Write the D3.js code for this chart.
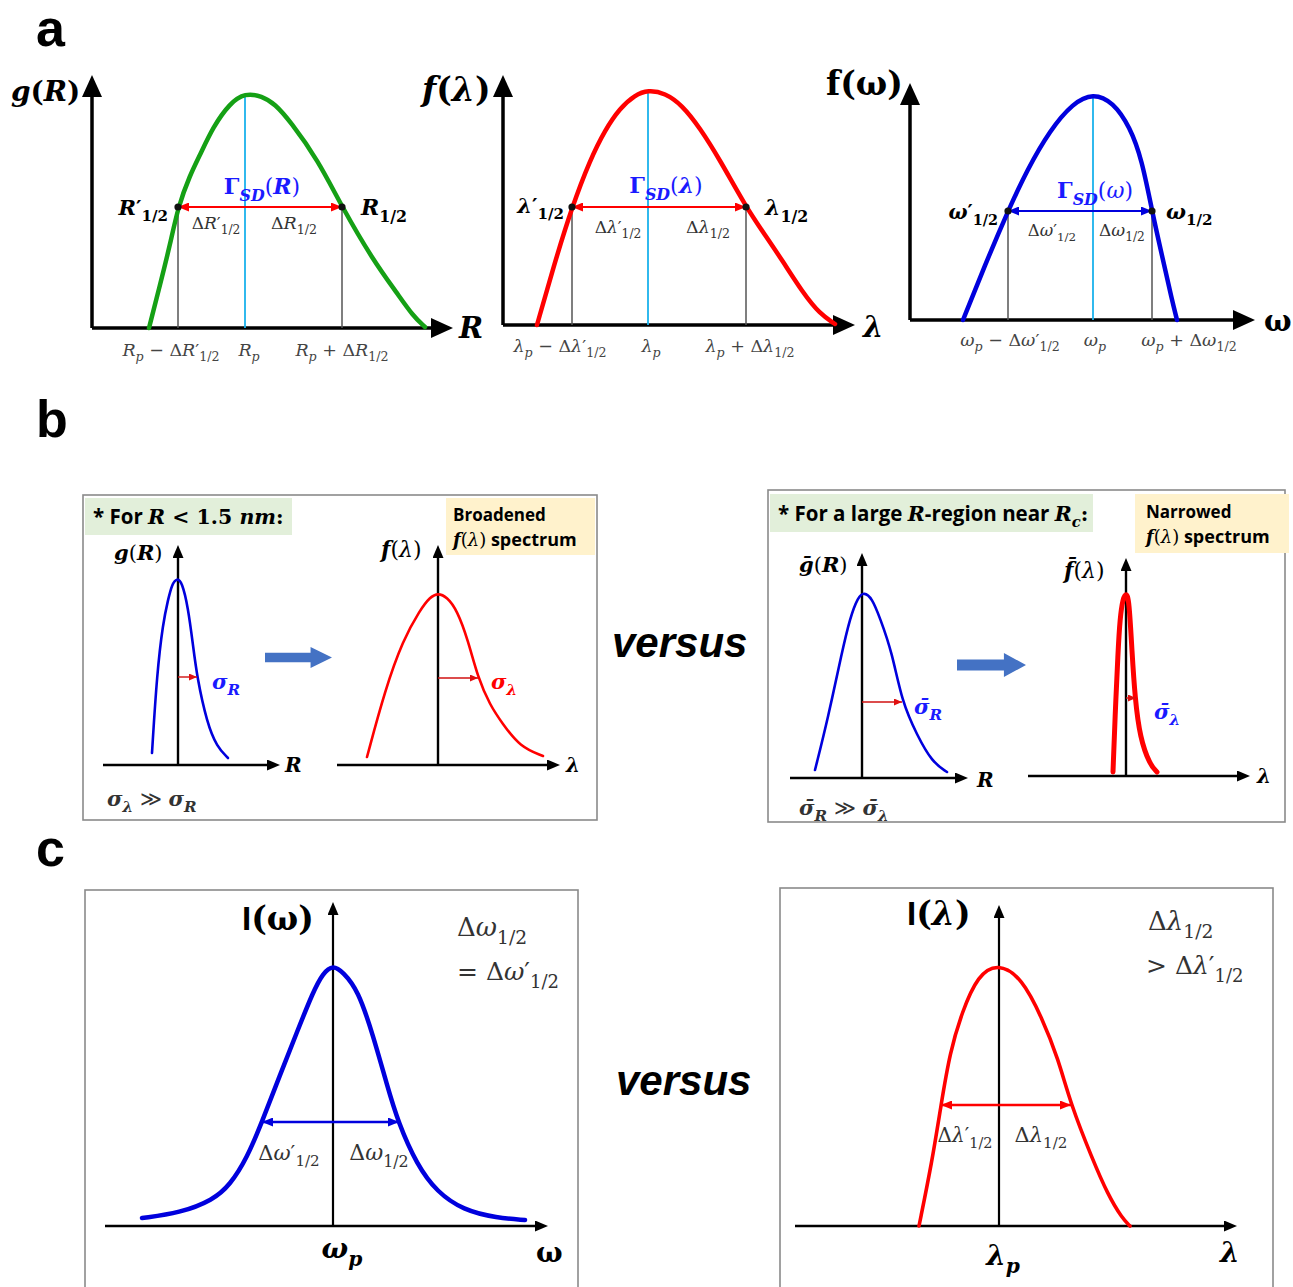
<!DOCTYPE html>
<html><head><meta charset="utf-8">
<script src="https://cdn.jsdelivr.net/npm/d3@7"></script>
<style>body{margin:0;background:#fff}</style>
</head><body>
<script>
// ================= DATA (arbitrary units) =================
// Panel a : curves, x measured from the y-axis, y measured from the baseline
const aG_x = [57,68,78,86,98,108,121,138,153,170,183,198,226,250,281,305,321,333];
const aG_y = [0,43,83,121,153,173,201,225,235,232,224,207,168,121,68,35,12,1];
const aF_x = [34,51,69,87,102,117,132,145,162,179,197,217,243,262,279,300,317,332];
const aF_y = [0,60,118,165,195,217,230,235,232,220,197,165,118,90,65,32,11,1];
const aW_x = [53,75,98,117,140,163,183,203,220,232,242,253,262,267];
const aW_y = [0,55,109,150,190,217,227,218,193,160,109,60,20,0];
// half-maximum markers: [left x, right x, level, peak x]
const aG_half = [86,250,121,153];
const aF_half = [69,243,118,145];
const aW_half = [98,242,109,183];
// Panel b : curves (x measured from the vertical axis)
const bG1_x = [-26,-21,-15,-10,-6,-1,4,10,15,19,29,39,50];
const bG1_y = [12,92,142,165,181,187,183,158,120,88,42,18,7];
const bF1_x = [-71,-53,-35,-18,-8,0,9,19,30,40,52,64,82,105];
const bF1_y = [8,75,125,155,168,172,168,155,125,87,60,42,18,9];
const bG2_x = [-47,-34,-20,-12,-4,2,10,18,30,40,55,70,85];
const bG2_y = [8,60,126,160,181,186,180,160,126,76,43,16,6];
const bF2_x = [-13,-11,-8,-6,-3,0,3,6,9,14,24,31];
const bF2_y = [4,58,124,158,178,183,178,124,78,38,11,4];
const bSigma = [19,40,40,10]; // arrow length to the curve (sigma) in each sub-plot
const bSigmaY = [88,87,76,78];
// Panel c
const cW_x = [-191,-153,-120,-103,-86,-71,-53,-36,-20,-10,0,10,25,40,54,65,84,104,130,164,192];
const cW_y = [8,13,26,41,68,104,151,194,234,253,261,254,236,191,141,104,61,34,16,8,6];
const cL_x = [-80,-67,-58,-49,-37,-21,-1,23,43,59,72,93,109,123,131];
const cL_y = [0,64,121,174,214,251,263,248,208,168,121,68,31,8,0];
const cW_half = [-71,66,104];
const cL_half = [-58,72,121];

// ---- text labels (segments: [text, flags]; i=italic b=bold s=subscript a=sans) ----
const ticksA1 = [
  [["R","i"],["p","is"],[" − Δ",""],["R","i"],["′",""],["1/2","s"]],
  [["R","i"],["p","is"]],
  [["R","i"],["p","is"],[" + Δ",""],["R","i"],["1/2","s"]]];
const ticksA2 = [
  [["λ","i"],["p","is"],[" − Δ",""],["λ","i"],["′",""],["1/2","s"]],
  [["λ","i"],["p","is"]],
  [["λ","i"],["p","is"],[" + Δ",""],["λ","i"],["1/2","s"]]];
const ticksA3 = [
  [["ω","i"],["p","is"],[" − Δ",""],["ω","i"],["′",""],["1/2","s"]],
  [["ω","i"],["p","is"]],
  [["ω","i"],["p","is"],[" + Δ",""],["ω","i"],["1/2","s"]]];

// ================= LAYOUT =================
const W = 1293, H = 1287;
const SERIF = "'DejaVu Serif', serif";
const SANS = "'Liberation Sans', Arial, sans-serif";
const CAL = "'Open Sans', 'Noto Sans', sans-serif";
const C = {green:"#15a015", red:"#ff0000", blue:"#0000dd", cyan:"#1ab2ec", gblue:"#1a1aff",
           gray:"#555", text:"#333", boxG:"#e2efda", boxY:"#fff2cc", arrowB:"#4472c4"};

const svg = d3.select("body").append("svg").attr("width", W).attr("height", H);
const defs = svg.append("defs");
function mk(id, color, len, wid, tip) {
  defs.append("marker").attr("id", id).attr("markerUnits", "userSpaceOnUse")
    .attr("markerWidth", len).attr("markerHeight", wid)
    .attr("refX", tip ? len : 0).attr("refY", wid / 2)
    .attr("orient", "auto-start-reverse").attr("viewBox", `0 0 ${len} ${wid}`)
    .append("path").attr("d", `M0,0L${len},${wid / 2}L0,${wid}Z`).attr("fill", color);
}
mk("axA", "#000", 22, 20, false);
mk("axB", "#000", 13, 11, false);
mk("dR", C.red, 11, 9, true);
mk("dB", C.blue, 11, 9, true);
mk("sR", "#e01010", 8, 7, true);

function rich(x, y, segs, o = {}) {
  const size = o.size || 18;
  const t = svg.append("text").attr("x", x).attr("y", y).attr("font-size", size)
    .attr("font-family", o.font || SERIF).attr("fill", o.color || "#000")
    .attr("text-anchor", o.anchor || "start")
    .attr("font-weight", o.bold ? "bold" : "normal");
  let cur = 0;
  for (const [txt, f] of segs) {
    let off = 0, fs = size;
    if (f.includes("s")) { off = size * 0.3; fs = size * 0.72; }
    const ts = t.append("tspan").text(txt).attr("font-size", fs);
    if (off !== cur) ts.attr("dy", off - cur);
    cur = off;
    ts.attr("font-style", f.includes("i") ? "italic" : "normal");
    if (f.includes("b")) ts.attr("font-weight", "bold");
    if (f.includes("a")) ts.attr("font-family", o.sans || CAL);
  }
  return t;
}

// generic sub-plot: origin (ox, oy) in px, axis extents in data units
function plot(cfg) {
  const x = d3.scaleLinear().domain([0, 1]).range([cfg.ox, cfg.ox + 1]);
  const y = d3.scaleLinear().domain([0, 1]).range([cfg.oy, cfg.oy - 1]);
  const g = svg.append("g");
  const hl = cfg.head;
  const mid = cfg.marker;
  g.append("line").attr("x1", x(cfg.xmin)).attr("y1", y(0)).attr("x2", x(cfg.xmax) - hl).attr("y2", y(0))
    .attr("stroke", "#000").attr("stroke-width", cfg.aw).attr("marker-end", `url(#${mid})`);
  g.append("line").attr("x1", x(cfg.yx)).attr("y1", y(0)).attr("x2", x(cfg.yx)).attr("y2", y(cfg.ymax) + hl)
    .attr("stroke", "#000").attr("stroke-width", cfg.yaw || cfg.aw).attr("marker-end", `url(#${mid})`);
  return {x, y, g};
}
function curve(p, xs, ys, color, w) {
  const line = d3.line().x(d => p.x(d[0])).y(d => p.y(d[1])).curve(d3.curveBasis);
  p.g.append("path").attr("d", line(d3.zip(xs, ys))).attr("fill", "none")
    .attr("stroke", color).attr("stroke-width", w).attr("stroke-linecap", "round").attr("stroke-linejoin", "round");
}

// ---------- panel letters ----------
svg.append("text").attr("x", 36).attr("y", 46).text("a").attr("font-family", SANS).attr("font-weight", "bold").attr("font-size", 52);
svg.append("text").attr("x", 36).attr("y", 437).text("b").attr("font-family", SANS).attr("font-weight", "bold").attr("font-size", 52);
svg.append("text").attr("x", 36).attr("y", 866).text("c").attr("font-family", SANS).attr("font-weight", "bold").attr("font-size", 52);

// ---------- panel a ----------
function panelA(cfg, xs, ys, half, col, arrowMarker, ticks, lab) {
  const p = plot({ox: cfg.ox, oy: cfg.oy, xmin: 0, xmax: cfg.xlen, yx: 0, ymax: cfg.ylen, aw: 3.5, head: 22, marker: "axA"});
  const [hlx, hrx, hy, pk] = half;
  const peakY = d3.max(ys) - 2;
  p.g.append("line").attr("x1", p.x(pk)).attr("x2", p.x(pk)).attr("y1", p.y(0)).attr("y2", p.y(peakY))
    .attr("stroke", C.cyan).attr("stroke-width", 1.8);
  [hlx, hrx].forEach(v => p.g.append("line").attr("x1", p.x(v)).attr("x2", p.x(v)).attr("y1", p.y(0)).attr("y2", p.y(hy))
    .attr("stroke", C.gray).attr("stroke-width", 1.5));
  curve(p, xs, ys, col, 4.5);
  p.g.append("line").attr("x1", p.x(hlx)).attr("x2", p.x(hrx)).attr("y1", p.y(hy)).attr("y2", p.y(hy))
    .attr("stroke", arrowMarker === "dR" ? C.red : C.blue).attr("stroke-width", 1.8)
    .attr("marker-start", `url(#${arrowMarker})`).attr("marker-end", `url(#${arrowMarker})`);
  [hlx, hrx].forEach(v => p.g.append("circle").attr("cx", p.x(v)).attr("cy", p.y(hy)).attr("r", 3.6).attr("fill", "#111"));
  const tx = [hlx, pk, hrx];
  ticks.forEach((t, i) => rich(p.x(tx[i]) + lab.tdx[i], p.y(0) + lab.tdy, t, {size: 17.5, anchor: "middle", color: "#444"}));
  return p;
}

// a1 g(R)
const pA1 = panelA({ox: 92, oy: 328, xlen: 361, ylen: 253}, aG_x, aG_y, aG_half, C.green, "dR", ticksA1, {tdx: [-7, 4, 0], tdy: 28});
rich(11, 101, [["g","bi"],["(","b"],["R","bi"],[")","b"]], {size: 28});
rich(459, 338, [["R","bi"]], {size: 29});
rich(pA1.x(aG_half[3]) + 17, pA1.y(aG_half[2]) - 13, [["Γ","b"],["SD","bis"],["(",""],["R","bi"],[")",""]], {size: 22, anchor: "middle", color: C.gblue});
rich(pA1.x(aG_half[0]) - 10, pA1.y(aG_half[2]) + 8, [["R","bi"],["′","b"],["1/2","bs"]], {size: 21, anchor: "end"});
rich(pA1.x(aG_half[1]) + 19, pA1.y(aG_half[2]) + 8, [["R","bi"],["1/2","bs"]], {size: 22});
rich(pA1.x(aG_half[0]) + 38, pA1.y(aG_half[2]) + 22, [["Δ",""],["R","i"],["′",""],["1/2","s"]], {size: 17, anchor: "middle", color: C.text});
rich(pA1.x(aG_half[1]) - 48, pA1.y(aG_half[2]) + 22, [["Δ",""],["R","i"],["1/2","s"]], {size: 17.5, anchor: "middle", color: C.text});

// a2 f(λ)
const pA2 = panelA({ox: 503, oy: 325, xlen: 352, ylen: 250}, aF_x, aF_y, aF_half, C.red, "dR", ticksA2, {tdx: [-12, 3, 4], tdy: 27});
rich(422, 101, [["f","bi"],["(","b"],["λ","bi"],[")","b"]], {size: 33});
rich(863, 337, [["λ","bi"]], {size: 29});
rich(pA2.x(aF_half[3]) + 18, pA2.y(aF_half[2]) - 14, [["Γ","b"],["SD","bis"],["(",""],["λ","bi"],[")",""]], {size: 22, anchor: "middle", color: C.gblue});
rich(pA2.x(aF_half[0]) - 8, pA2.y(aF_half[2]) + 6, [["λ","bi"],["′","b"],["1/2","bs"]], {size: 21, anchor: "end"});
rich(pA2.x(aF_half[1]) + 19, pA2.y(aF_half[2]) + 8, [["λ","bi"],["1/2","bs"]], {size: 22});
rich(pA2.x(aF_half[0]) + 46, pA2.y(aF_half[2]) + 26, [["Δ",""],["λ","i"],["′",""],["1/2","s"]], {size: 17, anchor: "middle", color: C.text});
rich(pA2.x(aF_half[1]) - 38, pA2.y(aF_half[2]) + 26, [["Δ",""],["λ","i"],["1/2","s"]], {size: 17.5, anchor: "middle", color: C.text});

// a3 f(ω)
const pA3 = panelA({ox: 910, oy: 320, xlen: 345, ylen: 237}, aW_x, aW_y, aW_half, C.blue, "dB", ticksA3, {tdx: [2, 2, 37], tdy: 26});
rich(826, 95, [["f","b"],["(","b"],["ω","b"],[")","b"]], {size: 33});
rich(1264, 331, [["ω","b"]], {size: 29});
rich(pA3.x(aW_half[3]) + 2, pA3.y(aW_half[2]) - 13, [["Γ","b"],["SD","bis"],["(",""],["ω","i"],[")",""]], {size: 22, anchor: "middle", color: C.gblue});
rich(pA3.x(aW_half[0]) - 10, pA3.y(aW_half[2]) + 8, [["ω","bi"],["′","b"],["1/2","bs"]], {size: 20, anchor: "end"});
rich(pA3.x(aW_half[1]) + 14, pA3.y(aW_half[2]) + 8, [["ω","bi"],["1/2","bs"]], {size: 21});
rich(pA3.x(aW_half[0]) + 44, pA3.y(aW_half[2]) + 25, [["Δ",""],["ω","i"],["′",""],["1/2","s"]], {size: 16.5, anchor: "middle", color: C.text});
rich(pA3.x(aW_half[1]) - 30, pA3.y(aW_half[2]) + 25, [["Δ",""],["ω","i"],["1/2","s"]], {size: 17, anchor: "middle", color: C.text});

// ---------- panel b ----------
function box(x0, y0, x1, y1) {
  svg.append("rect").attr("x", x0).attr("y", y0).attr("width", x1 - x0).attr("height", y1 - y0)
    .attr("fill", "none").attr("stroke", "#8a8a8a").attr("stroke-width", 1.6);
}
function bigArrow(x0, y0, x1, y1) {
  const h = y1 - y0, bl = (x1 - x0) * 0.68;
  svg.append("path").attr("d", `M${x0},${y0 + h * 0.27}H${x0 + bl}V${y0}L${x1},${y0 + h / 2}L${x0 + bl},${y1}V${y1 - h * 0.27}H${x0}Z`)
    .attr("fill", C.arrowB);
}
function sigmaArrow(p, len, yv) {
  p.g.append("line").attr("x1", p.x(0)).attr("x2", p.x(len)).attr("y1", p.y(yv)).attr("y2", p.y(yv))
    .attr("stroke", "#d01010").attr("stroke-width", 1.4).attr("marker-end", "url(#sR)");
}
const bax = {aw: 2.4, head: 13, marker: "axB"};

// left box
box(83, 495, 597, 820);
svg.append("rect").attr("x", 85).attr("y", 498).attr("width", 207).attr("height", 37).attr("fill", C.boxG);
svg.append("rect").attr("x", 446).attr("y", 498).attr("width", 149).attr("height", 57).attr("fill", C.boxY);
rich(93, 524, [["* For ","ab"],["R","bi"],[" < 1.5 ","b"],["nm","bi"],[":","b"]], {size: 20.5});
rich(453, 521, [["Broadened","ab"]], {size: 17});
rich(453, 546, [["f","bi"],["(",""],["λ","i"],[")",""],[" spectrum","ab"]], {size: 18});

const pB1 = plot(Object.assign({ox: 178, oy: 765, xmin: -75, xmax: 102, yx: 0, ymax: 220}, bax));
curve(pB1, bG1_x, bG1_y, C.blue, 2.6);
sigmaArrow(pB1, bSigma[0], bSigmaY[0]);
rich(114, 560, [["g","bi"],["(",""],["R","bi"],[")",""]], {size: 21});
rich(285, 772, [["R","bi"]], {size: 20});
rich(212, 689, [["σ","bi"],["R","bis"]], {size: 21, color: C.gblue});
rich(107, 806, [["σ","bi"],["λ","bis"],[" ≫ ",""],["σ","bi"],["R","bis"]], {size: 21, color: "#333"});

bigArrow(265, 647, 332, 668);

const pB2 = plot(Object.assign({ox: 438, oy: 765, xmin: -101, xmax: 122, yx: 0, ymax: 220}, bax));
curve(pB2, bF1_x, bF1_y, C.red, 2.6);
sigmaArrow(pB2, bSigma[1], bSigmaY[1]);
rich(381, 557, [["f","bi"],["(",""],["λ","i"],[")",""]], {size: 22});
rich(566, 772, [["λ","bi"]], {size: 20});
rich(491, 689, [["σ","bi"],["λ","bis"]], {size: 21, color: C.red});

// right box
box(768, 490, 1285, 822);
svg.append("rect").attr("x", 770).attr("y", 494).attr("width", 323).attr("height", 38).attr("fill", C.boxG);
svg.append("rect").attr("x", 1135).attr("y", 494).attr("width", 154).attr("height", 59).attr("fill", C.boxY);
rich(778, 521, [["* For a large ","ab"],["R","bi"],["-region near ","ab"],["R","bi"],["c","bis"],[":","b"]], {size: 20.5});
rich(1146, 518, [["Narrowed","ab"]], {size: 17});
rich(1146, 543, [["f","bi"],["(",""],["λ","i"],[")",""],[" spectrum","ab"]], {size: 18});

const pB3 = plot(Object.assign({ox: 862, oy: 778, xmin: -72, xmax: 106, yx: 0, ymax: 225}, bax));
curve(pB3, bG2_x, bG2_y, C.blue, 2.6);
sigmaArrow(pB3, bSigma[2], bSigmaY[2]);
rich(799, 572, [["g\u0304","bi"],["(",""],["R","bi"],[")",""]], {size: 21});
rich(977, 787, [["R","bi"]], {size: 20});
rich(914, 714, [["σ\u0304","bi"],["R","bis"]], {size: 21, color: C.gblue});
rich(799, 815, [["σ\u0304","bi"],["R","bis"],[" ≫ ",""],["σ\u0304","bi"],["λ","bis"]], {size: 21, color: "#333"});

bigArrow(957, 653, 1026, 677);

const pB4 = plot(Object.assign({ox: 1126, oy: 776, xmin: -98, xmax: 124, yx: 0, ymax: 218}, bax));
curve(pB4, bF2_x, bF2_y, C.red, 5);
sigmaArrow(pB4, bSigma[3], bSigmaY[3]);
rich(1064, 578, [["f\u0304","bi"],["(",""],["λ","i"],[")",""]], {size: 22});
rich(1257, 783, [["λ","bi"]], {size: 20});
rich(1154, 719, [["σ\u0304","bi"],["λ","bis"]], {size: 21, color: C.gblue});

svg.append("text").attr("x", 612).attr("y", 657).text("versus").attr("font-family", SANS)
  .attr("font-weight", "bold").attr("font-style", "italic").attr("font-size", 42);
svg.append("text").attr("x", 616).attr("y", 1095).text("versus").attr("font-family", SANS)
  .attr("font-weight", "bold").attr("font-style", "italic").attr("font-size", 42);

// ---------- panel c ----------
box(85, 890, 578, 1300);
const pC1 = plot({ox: 333, oy: 1226, xmin: -228, xmax: 215, yx: 0, ymax: 324, aw: 2.6, yaw: 2.2, head: 13, marker: "axB"});
curve(pC1, cW_x, cW_y, C.blue, 4.5);
pC1.g.append("line").attr("x1", pC1.x(cW_half[0])).attr("x2", pC1.x(cW_half[1])).attr("y1", pC1.y(cW_half[2])).attr("y2", pC1.y(cW_half[2]))
  .attr("stroke", C.blue).attr("stroke-width", 2.5).attr("marker-start", "url(#dB)").attr("marker-end", "url(#dB)");
rich(242, 930, [["I","ab"],["(","b"],["ω","b"],[")","b"]], {size: 33, sans: SANS});
rich(342, 1258, [["ω","bi"],["p","bis"]], {size: 28, anchor: "middle"});
rich(536, 1262, [["ω","b"]], {size: 28});
rich(457, 936, [["Δ",""],["ω","i"],["1/2","s"]], {size: 26, color: C.text});
rich(457, 980, [["= Δ",""],["ω","i"],["′",""],["1/2","s"]], {size: 25, color: C.text});
rich(pC1.x(cW_half[0]) + 27, pC1.y(cW_half[2]) + 38, [["Δ",""],["ω","i"],["′",""],["1/2","s"]], {size: 21, anchor: "middle", color: C.text});
rich(pC1.x(cW_half[1]) - 20, pC1.y(cW_half[2]) + 38, [["Δ",""],["ω","i"],["1/2","s"]], {size: 22, anchor: "middle", color: C.text});

box(780, 888, 1273, 1300);
const pC2 = plot({ox: 999, oy: 1226, xmin: -204, xmax: 238, yx: 0, ymax: 321, aw: 2.6, yaw: 2.2, head: 13, marker: "axB"});
curve(pC2, cL_x, cL_y, C.red, 3.6);
pC2.g.append("line").attr("x1", pC2.x(cL_half[0])).attr("x2", pC2.x(cL_half[1])).attr("y1", pC2.y(cL_half[2])).attr("y2", pC2.y(cL_half[2]))
  .attr("stroke", C.red).attr("stroke-width", 2.5).attr("marker-start", "url(#dR)").attr("marker-end", "url(#dR)");
rich(907, 925, [["I","ab"],["(","b"],["λ","bi"],[")","b"]], {size: 33, sans: SANS});
rich(1003, 1265, [["λ","bi"],["p","bis"]], {size: 28, anchor: "middle"});
rich(1220, 1262, [["λ","bi"]], {size: 28});
rich(1148, 930, [["Δ",""],["λ","i"],["1/2","s"]], {size: 26, color: C.text});
rich(1146, 974, [["> Δ",""],["λ","i"],["′",""],["1/2","s"]], {size: 25, color: C.text});
rich(pC2.x(cL_half[0]) + 24, pC2.y(cL_half[2]) + 37, [["Δ",""],["λ","i"],["′",""],["1/2","s"]], {size: 20, anchor: "middle", color: C.text});
rich(pC2.x(cL_half[1]) - 30, pC2.y(cL_half[2]) + 37, [["Δ",""],["λ","i"],["1/2","s"]], {size: 21, anchor: "middle", color: C.text});
</script>
</body></html>
